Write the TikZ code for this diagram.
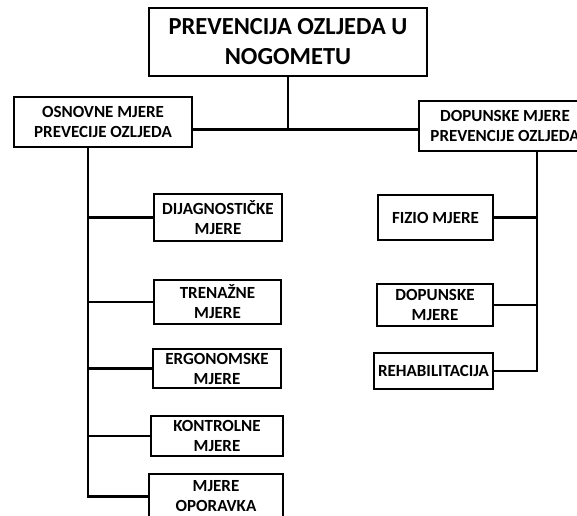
\documentclass[tikz,border=0pt]{standalone}
\usepackage{fontspec}
\setmainfont{Carlito}[BoldFont={Carlito Bold}]
\usetikzlibrary{positioning}

\begin{document}
\begin{tikzpicture}[x=1pt,y=-1pt,
  box/.style={draw,line width=2.8pt,fill=white,align=center,inner sep=0pt,font=\bfseries\fontsize{17}{20}\selectfont},
  link/.style={line width=2.8pt}]
\useasboundingbox (0,0) rectangle (577,515);
\clip (0,0) rectangle (577,515);

\node[box,minimum width=278pt,minimum height=68pt,font=\bfseries\fontsize{24.5}{30}\selectfont] (top) at (288,42) {PREVENCIJA OZLJEDA U\\NOGOMETU};

\node[box,minimum width=178pt,minimum height=50pt] (osn) at (103,122) {OSNOVNE MJERE\\PREVECIJE OZLJEDA};
\node[box,minimum width=172pt,minimum height=50pt] (dop) at (505,126) {DOPUNSKE MJERE\\PREVENCIJE OZLJEDA};

\node[box,minimum width=128pt,minimum height=47pt] (diag) at (218,217.5) {DIJAGNOSTIČKE\\MJERE};
\node[box,minimum width=127pt,minimum height=44pt] (tren) at (217.5,302) {TRENAŽNE\\MJERE};
\node[box,minimum width=128pt,minimum height=39pt] (ergo) at (217,368.5) {ERGONOMSKE\\MJERE};
\node[box,minimum width=132pt,minimum height=40pt] (kontr) at (217,436) {KONTROLNE\\MJERE};
\node[box,minimum width=134pt,minimum height=45pt] (opor) at (216,496.5) {MJERE\\OPORAVKA};

\node[box,minimum width=115pt,minimum height=45pt] (fizio) at (435.5,217.5) {FIZIO MJERE};
\node[box,minimum width=116pt,minimum height=42pt] (dopl) at (435,305) {DOPUNSKE\\MJERE};
\node[box,minimum width=119pt,minimum height=36pt] (rehab) at (433.5,371) {REHABILITACIJA};

\coordinate (hub) at ([yshift=-52pt]top.south);
\draw[link] (top.south) -- (hub);
\draw[link] (osn.east |- hub) -- (dop.west |- hub);

\coordinate (ltrunk) at ([xshift=-15pt]osn.south);
\draw[link] (ltrunk) |- (opor.west);
\draw[link] (ltrunk |- diag.west) -- (diag.west);
\draw[link] (ltrunk |- tren.west) -- (tren.west);
\draw[link] (ltrunk |- ergo.west) -- (ergo.west);
\draw[link] (ltrunk |- kontr.west) -- (kontr.west);

\coordinate (rtrunk) at ([xshift=32pt]dop.south);
\draw[link] (rtrunk) |- (rehab.east);
\draw[link] (rtrunk |- fizio.east) -- (fizio.east);
\draw[link] (rtrunk |- dopl.east) -- (dopl.east);

\end{tikzpicture}
\end{document}
